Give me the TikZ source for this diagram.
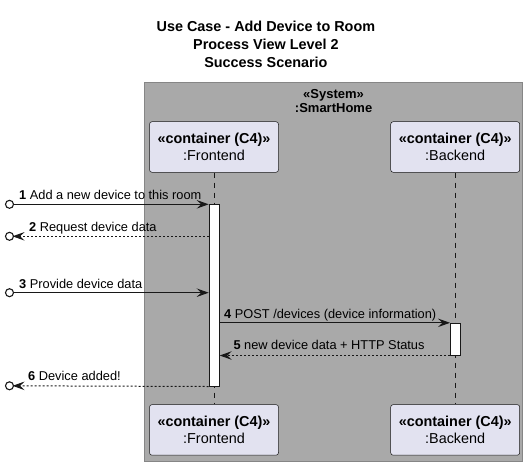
\documentclass[tikz,border=0pt]{standalone}
\usepackage{fontspec}
\setmainfont{Liberation Sans}
\usetikzlibrary{arrows.meta,calc}
\definecolor{ink}{HTML}{181818}
\definecolor{sysfill}{HTML}{A9A9A9}
\definecolor{sysline}{HTML}{868686}
\definecolor{partfill}{HTML}{E2E2F0}
\begin{document}
\begin{tikzpicture}[x=1pt,y=-1pt,
  titletext/.style={anchor=base,inner sep=0pt,font=\fontsize{14.4}{18}\selectfont\bfseries},
  systext/.style={anchor=base,inner sep=0pt,font=\fontsize{13}{16}\selectfont\bfseries},
  sysbox/.style={draw=sysline,fill=sysfill,line width=1pt,inner sep=0pt,minimum width=378.2pt,minimum height=379.4pt},
  partbox/.style={draw=ink,line width=0.5pt,fill=partfill,rounded corners=2.5pt,inner sep=0pt,
    minimum width=129pt,minimum height=50.6pt,align=center,font=\fontsize{14.4}{17.2}\selectfont},
  lifeline/.style={draw=ink,line width=0.5pt,dash pattern=on 5pt off 5pt},
  actbar/.style={draw=ink,fill=white,line width=1pt,inner sep=0pt,minimum width=10pt},
  endpt/.style={circle,draw=ink,fill=white,line width=1.1pt,inner sep=0pt,minimum size=8pt},
  arrowtip/.style={-{Stealth[length=12pt,width=8.5pt,inset=4.5pt]}},
  msg/.style={draw=ink,line width=1pt,arrowtip},
  retmsg/.style={draw=ink,line width=1pt,dash pattern=on 2pt off 2pt,arrowtip},
  msgtext/.style={anchor=base west,inner sep=0pt,font=\fontsize{12.8}{15}\selectfont}
]
\useasboundingbox (0,0) rectangle (528,467);

% title
\node[titletext] (t1) at (265.9,31) {Use Case - Add Device to Room};
\node[titletext] (t2) at (265.9,49.2) {Process View Level 2};
\node[titletext] (t3) at (265.9,67.4) {Success Scenario};

% system boundary
\node[sysbox] (sys) at (333.6,272) {};
\node[systext] (sysst) at (333.6,98.6) {«System»};
\node[systext] (sysname) at (333.6,112.4) {:SmartHome};

% participants
\node[partbox] (feT) at (214,147) {{\bfseries «container (C4)»}\\:Frontend};
\node[partbox] (beT) at (455.2,147) {{\bfseries «container (C4)»}\\:Backend};
\node[partbox] (feB) at (214,429.9) {{\bfseries «container (C4)»}\\:Frontend};
\node[partbox] (beB) at (455.2,429.9) {{\bfseries «container (C4)»}\\:Backend};

% lifelines
\draw[lifeline] (feT.south) -- (feB.north);
\draw[lifeline] (beT.south) -- (beB.north);

% activation bars
\node[actbar,minimum height=181.7pt] (fea) at (214.2,295.15) {};
\node[actbar,minimum height=31.7pt] (bea) at (455.5,339.15) {};

% outside end points
\node[endpt] (c1) at (9.5,204.3) {};
\node[endpt] (c2) at (9.5,236.3) {};
\node[endpt] (c3) at (9.5,292.7) {};
\node[endpt] (c6) at (9.5,385.8) {};

% messages
\draw[msg] (c1.east) -- (c1 -| fea.west);
\draw[retmsg,shorten >=-1.5pt] (c2 -| fea.west) -- (c2.east);
\draw[msg] (c3.east) -- (c3 -| fea.west);
\draw[msg] (bea.north -| fea.east) -- (bea.north west);
\draw[retmsg] (bea.south west) -- (bea.south -| fea.east);
\draw[retmsg,shorten >=-1.5pt] (fea.south west) -- (c6.east);

% message labels
\node[msgtext] (l1) at (19,199.6) {\textbf{1} Add a new device to this room};
\node[msgtext] (l2) at (29,231.6) {\textbf{2} Request device data};
\node[msgtext] (l3) at (19,288) {\textbf{3} Provide device data};
\node[msgtext] (l4) at (224,318.5) {\textbf{4} POST /devices (device information)};
\node[msgtext] (l5) at (233.3,349.8) {\textbf{5} new device data + HTTP Status};
\node[msgtext] (l6) at (28,380.8) {\textbf{6} Device added!};
\end{tikzpicture}
\end{document}
